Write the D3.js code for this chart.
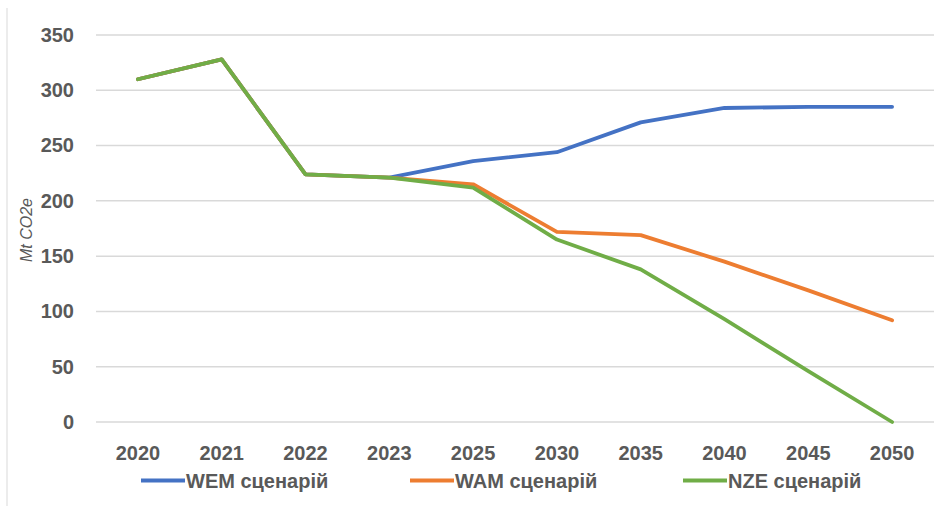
<!DOCTYPE html>
<html><head><meta charset="utf-8">
<script src="https://cdn.jsdelivr.net/npm/d3@7"></script>
<style>
body{margin:0;background:#fff;}
text{font-family:"Liberation Sans",Arial,sans-serif;fill:#595959;}
</style></head>
<body>
<svg id="c" width="936" height="506"></svg>
<script>
const years = ["2020","2021","2022","2023","2025","2030","2035","2040","2045","2050"];
const wem = [310,328,224,221,236,244,271,284,285,285];
const wam = [310,328,224,221,215,172,169,145,119,92];
const nze = [310,328,224,221,212,165,138,93,46,0];
const yTicks = [0,50,100,150,200,250,300,350];
const seriesNames = ["WEM сценарій","WAM сценарій","NZE сценарій"];
const colors = ["#4472C4","#ED7D31","#70AD47"];
const yLabel = "Mt CO2e";

const svg = d3.select("#c");
const x = d3.scaleBand().domain(years).range([96,934]);
const y = d3.scaleLinear().domain([0,350]).range([422,35]);
const FONT = "\"Liberation Sans\",Arial,sans-serif";

// left frame line
svg.append("line").attr("x1",7).attr("x2",7).attr("y1",8).attr("y2",506)
  .attr("stroke","#d9d9d9").attr("stroke-width",1);

// grid
svg.append("g").selectAll("line").data(yTicks).join("line")
  .attr("x1",96).attr("x2",934)
  .attr("y1",d=>y(d)).attr("y2",d=>y(d))
  .attr("stroke","#d9d9d9").attr("stroke-width",1.5);

// y axis
const ya = svg.append("g").attr("transform","translate(74,0)")
  .call(d3.axisLeft(y).tickValues(yTicks).tickSize(0).tickPadding(0));
ya.select(".domain").remove();
ya.selectAll("text").attr("font-size",20).attr("font-weight","bold")
  .style("font-family",FONT).attr("fill","#595959");

// x axis
const xa = svg.append("g").attr("transform","translate(0,446)")
  .call(d3.axisBottom(x).tickSize(0).tickPadding(0));
xa.select(".domain").remove();
xa.selectAll("text").attr("font-size",20).attr("font-weight","bold").attr("dy","0.71em")
  .style("font-family",FONT).attr("fill","#595959");

// y label
svg.append("text").attr("transform","translate(32,230) rotate(-90)")
  .attr("text-anchor","middle").attr("font-size",16).attr("font-style","italic")
  .text(yLabel);

const line = d3.line().x((d,i)=>x(years[i])+x.bandwidth()/2).y(d=>y(d));
const data = [wem,wam,nze];
svg.append("g").selectAll("path").data(data).join("path")
  .attr("d",d=>line(d)).attr("fill","none")
  .attr("stroke",(d,i)=>colors[i]).attr("stroke-width",3.8)
  .attr("stroke-linejoin","round").attr("stroke-linecap","round");

// legend
const legX = [141,410,683];
const lg = svg.append("g").selectAll("g").data(seriesNames).join("g")
  .attr("transform",(d,i)=>`translate(${legX[i]},480.5)`);
lg.append("line").attr("x1",0).attr("x2",44).attr("y1",0).attr("y2",0)
  .attr("stroke",(d,i)=>colors[i]).attr("stroke-width",3.8);
lg.append("text").attr("x",45).attr("y",0).attr("dy","0.35em")
  .attr("font-size",20).attr("font-weight","bold").text(d=>d);
</script>
</body></html>
